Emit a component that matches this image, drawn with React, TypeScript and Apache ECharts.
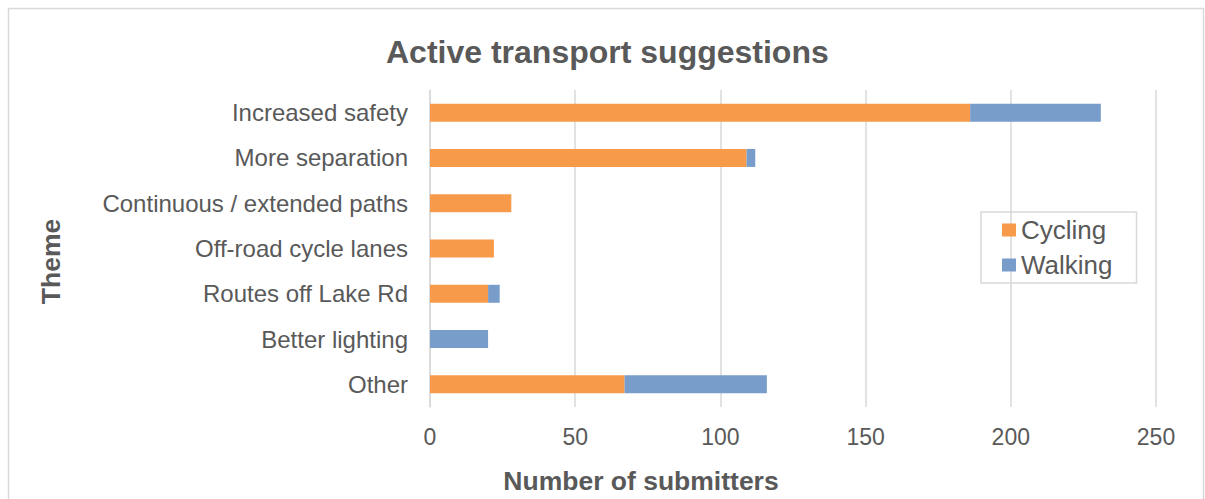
import React, { useEffect, useRef } from "react";
import * as echarts from "echarts";

const categories = [
  "Increased safety",
  "More separation",
  "Continuous / extended paths",
  "Off-road cycle lanes",
  "Routes off Lake Rd",
  "Better lighting",
  "Other",
];
const cycling = [186, 109, 28, 22, 20, 0, 67];
const walking = [45, 3, 0, 0, 4, 20, 49];
const xTicks = [0, 50, 100, 150, 200, 250];

const FONT = "'Liberation Sans', Arial, sans-serif";
const TXT = "#595959";

export default function App() {
  const ref = useRef<HTMLDivElement>(null);
  useEffect(() => {
    if (!ref.current) return;
    const chart = echarts.init(ref.current, undefined, { renderer: "svg" });
    chart.setOption({
      animation: false,
      textStyle: { fontFamily: FONT },
      title: {
        text: "Active transport suggestions",
        left: 381,
        top: 31,
        textStyle: { fontFamily: FONT, fontSize: 32, fontWeight: "bold", color: TXT },
      },
      legend: {
        orient: "vertical",
        left: 981,
        top: 212,
        itemWidth: 14,
        itemHeight: 13,
        itemGap: 9,
        padding: [5, 24, 5, 21],
        borderColor: "#d9d9d9",
        borderWidth: 1.5,
        icon: "rect",
        textStyle: { fontFamily: FONT, fontSize: 26, color: TXT },
        data: ["Cycling", "Walking"],
      },
      graphic: [
        {
          type: "rect",
          shape: { x: 8.5, y: 8.5, width: 1195, height: 500 },
          style: { fill: "none", stroke: "#d9d9d9", lineWidth: 1.5 },
          silent: true,
        },
      ],
      grid: { left: 430, right: 49, top: 90, bottom: 90 },
      xAxis: {
        type: "value",
        min: xTicks[0],
        max: xTicks[xTicks.length - 1],
        interval: 50,
        name: "Number of submitters",
        nameLocation: "middle",
        nameGap: 60,
        nameTextStyle: {
          fontFamily: FONT,
          fontSize: 26.5,
          fontWeight: "bold",
          color: TXT,
          padding: [0, 304, 0, 0],
        },
        axisLine: { show: false },
        axisTick: { show: false },
        axisLabel: { fontFamily: FONT, fontSize: 23, color: TXT, margin: 18 },
        splitLine: { show: true, lineStyle: { color: "#d9d9d9", width: 1.5 } },
      },
      yAxis: {
        type: "category",
        inverse: true,
        data: categories,
        name: "Theme",
        nameLocation: "middle",
        nameGap: 366,
        nameRotate: 90,
        nameTextStyle: {
          fontFamily: FONT,
          fontSize: 26.5,
          fontWeight: "bold",
          color: TXT,
          padding: [0, 26, 0, 0],
        },
        axisLine: { show: true, lineStyle: { color: "#d9d9d9", width: 1.5 } },
        axisTick: { show: false },
        axisLabel: { fontFamily: FONT, fontSize: 24, color: TXT, margin: 22 },
      },
      series: [
        {
          name: "Cycling",
          type: "bar",
          stack: "total",
          data: cycling,
          barWidth: 18,
          itemStyle: { color: "#F79A4A" },
        },
        {
          name: "Walking",
          type: "bar",
          stack: "total",
          data: walking,
          barWidth: 18,
          itemStyle: { color: "#789DCA" },
        },
      ],
    });
    return () => chart.dispose();
  }, []);
  return (
    <div
      ref={ref}
      style={{ position: "fixed", left: 0, top: 0, width: 1205, height: 499, background: "#fff" }}
    />
  );
}
